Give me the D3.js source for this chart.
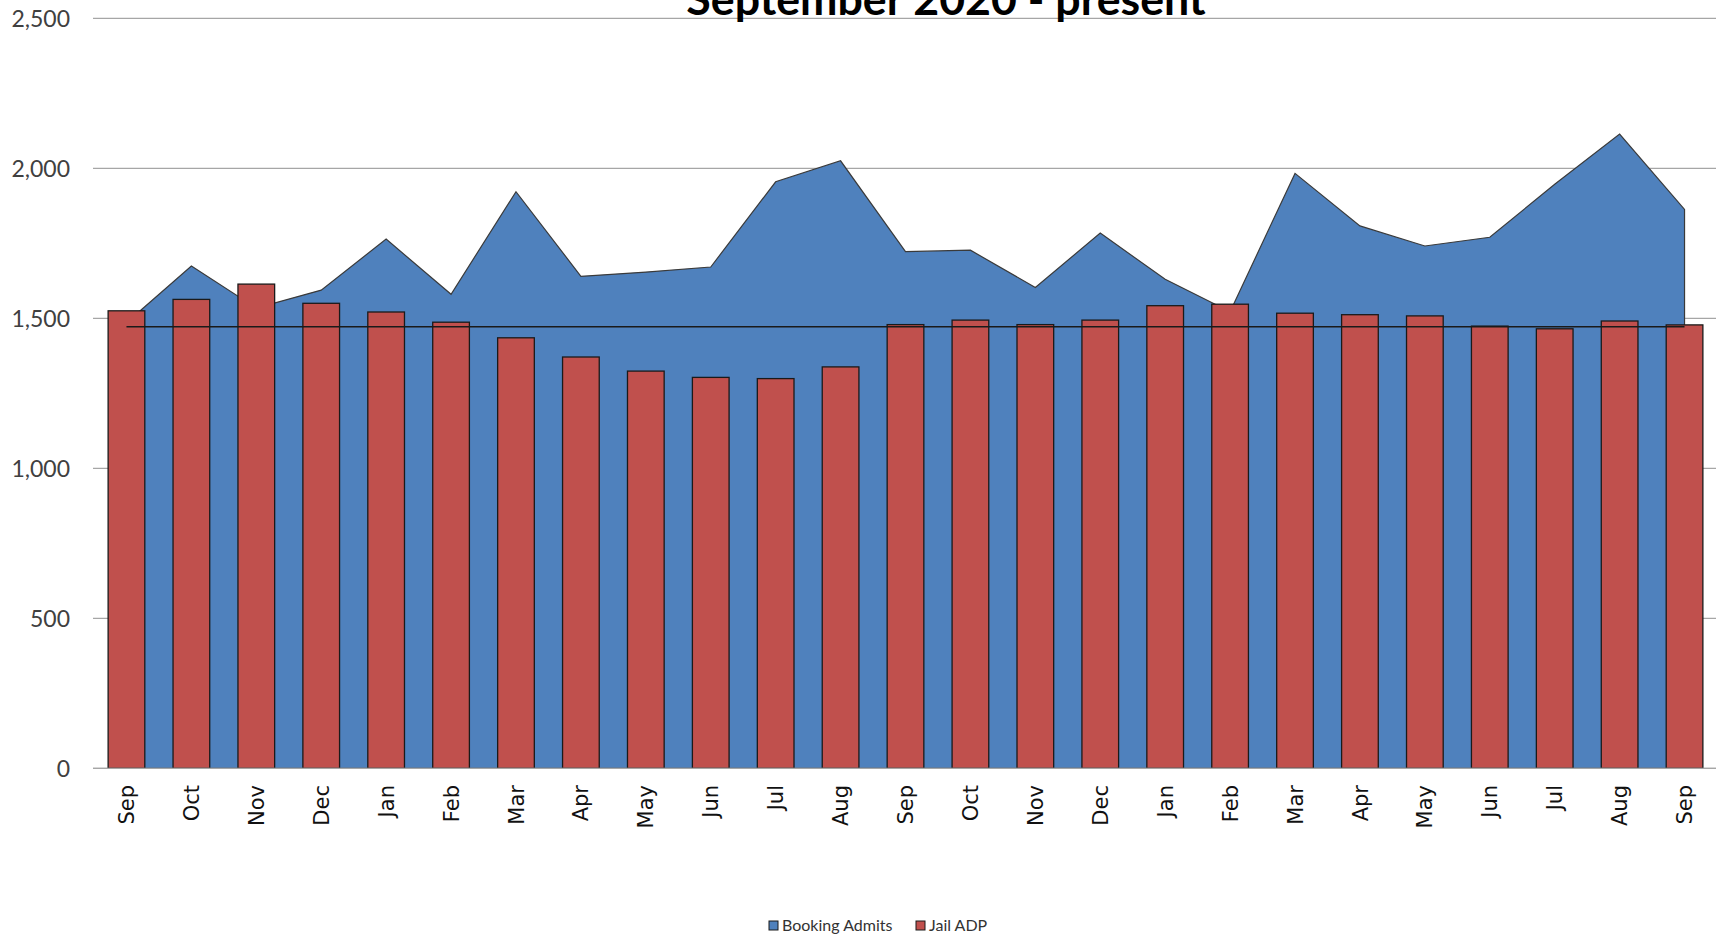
<!DOCTYPE html>
<html>
<head>
<meta charset="utf-8">
<script src="https://cdn.jsdelivr.net/npm/d3@7"></script>
<style>
  html, body { margin: 0; padding: 0; background: #fff; }
  svg { display: block; }
</style>
</head>
<body>
<div id="chart"></div>
<script>
const months = ['Sep', 'Oct', 'Nov', 'Dec', 'Jan', 'Feb', 'Mar', 'Apr', 'May', 'Jun', 'Jul', 'Aug',
  'Sep', 'Oct', 'Nov', 'Dec', 'Jan', 'Feb', 'Mar', 'Apr', 'May', 'Jun', 'Jul', 'Aug', 'Sep']

// monthly booking admits (area)
const bookingAdmits = [1485, 1674, 1534, 1594, 1764, 1580, 1922, 1640, 1654, 1671, 1955, 2025,
  1722, 1727, 1603, 1784, 1630, 1522, 1983, 1808, 1741, 1770, 1947, 2114, 1863]

// jail average daily population (bars)
const jailADP = [1525, 1563, 1614, 1550, 1521, 1487, 1435, 1371, 1324, 1303, 1299, 1338,
  1479, 1494, 1479, 1494, 1542, 1547, 1517, 1512, 1508, 1474, 1465, 1491, 1478]

const refLine = 1472
const yTicks = [0, 500, 1000, 1500, 2000, 2500]
const title = 'September 2020 - present'
const legendItems = [
  { name: 'Booking Admits', color: '#4F81BD' },
  { name: 'Jail ADP', color: '#C0504D' }
]

const width = 1725
const height = 937
const plot = { left: 94, right: 1717, top: 18.3, bottom: 768.3 }

const data = months.map((m, i) => ({ key: i, month: m, admits: bookingAdmits[i], adp: jailADP[i] }))

const svg = d3.select('#chart')
  .append('svg')
  .attr('width', width)
  .attr('height', height)

const x = d3.scaleBand()
  .domain(data.map(d => d.key))
  .range([plot.left, plot.right])
  .paddingInner(0.435)
  .paddingOuter(0.2175)

const y = d3.scaleLinear()
  .domain([0, 2500])
  .range([plot.bottom, plot.top])

const cx = k => x(k) + x.bandwidth() / 2

// gridlines
svg.append('g')
  .selectAll('line')
  .data(yTicks)
  .join('line')
  .attr('x1', plot.left - 1)
  .attr('x2', plot.right - 1)
  .attr('y1', d => y(d))
  .attr('y2', d => y(d))
  .attr('stroke', '#a6a6a6')
  .attr('stroke-width', 1.3)

// y labels
svg.append('g')
  .selectAll('text')
  .data(yTicks)
  .join('text')
  .attr('x', 70)
  .attr('y', d => y(d))
  .attr('dy', '0.36em')
  .attr('text-anchor', 'end')
  .style('font-family', 'Lato, sans-serif')
  .style('font-size', '23px')
  .style('fill', '#404040')
  .text(d => d3.format(',')(d))

// booking admits area
const area = d3.area()
  .x(d => cx(d.key))
  .y0(y(0))
  .y1(d => y(d.admits))

svg.append('path')
  .datum(data)
  .attr('d', area)
  .attr('fill', '#4F81BD')
  .attr('stroke', '#3a3a3a')
  .attr('stroke-width', 1.2)
  .attr('stroke-linejoin', 'miter')

// jail ADP bars
svg.append('g')
  .selectAll('rect')
  .data(data)
  .join('rect')
  .attr('x', d => x(d.key))
  .attr('y', d => y(d.adp))
  .attr('width', x.bandwidth())
  .attr('height', d => y(0) - y(d.adp))
  .attr('fill', '#C0504D')
  .attr('stroke', '#1a1a1a')
  .attr('stroke-width', 1.3)

// flat reference line
svg.append('line')
  .attr('x1', cx(0))
  .attr('x2', cx(data.length - 1))
  .attr('y1', y(refLine))
  .attr('y2', y(refLine))
  .attr('stroke', '#1a1a1a')
  .attr('stroke-width', 1.5)

// x axis baseline
svg.append('line')
  .attr('x1', plot.left - 1)
  .attr('x2', plot.right - 1)
  .attr('y1', y(0))
  .attr('y2', y(0))
  .attr('stroke', '#a6a6a6')
  .attr('stroke-width', 1.3)

// month labels
svg.append('g')
  .selectAll('text')
  .data(data)
  .join('text')
  .attr('transform', d => `translate(${cx(d.key)}, 785) rotate(-90)`)
  .attr('dy', '0.36em')
  .attr('text-anchor', 'end')
  .style('font-family', '"DejaVu Sans", sans-serif')
  .style('font-size', '21px')
  .style('fill', '#111')
  .text(d => d.month)

// title (cut off at the top as in the original)
svg.append('text')
  .attr('x', 946)
  .attr('y', 15)
  .attr('text-anchor', 'middle')
  .style('font-family', 'Lato, sans-serif')
  .style('font-weight', 'bold')
  .style('font-size', '44.7px')
  .style('fill', '#000')
  .text(title)

// legend
const legend = svg.append('g')
const legendPos = [769, 916]
legend.selectAll('rect')
  .data(legendItems)
  .join('rect')
  .attr('x', (d, i) => legendPos[i])
  .attr('y', 921)
  .attr('width', 9)
  .attr('height', 9)
  .attr('fill', d => d.color)
  .attr('stroke', '#1a1a1a')
  .attr('stroke-width', 1)

legend.selectAll('text')
  .data(legendItems)
  .join('text')
  .attr('x', (d, i) => legendPos[i] + 13)
  .attr('y', 931)
  .style('font-family', 'Lato, sans-serif')
  .style('font-size', '16px')
  .style('fill', '#333')
  .text(d => d.name)
</script>
</body>
</html>
